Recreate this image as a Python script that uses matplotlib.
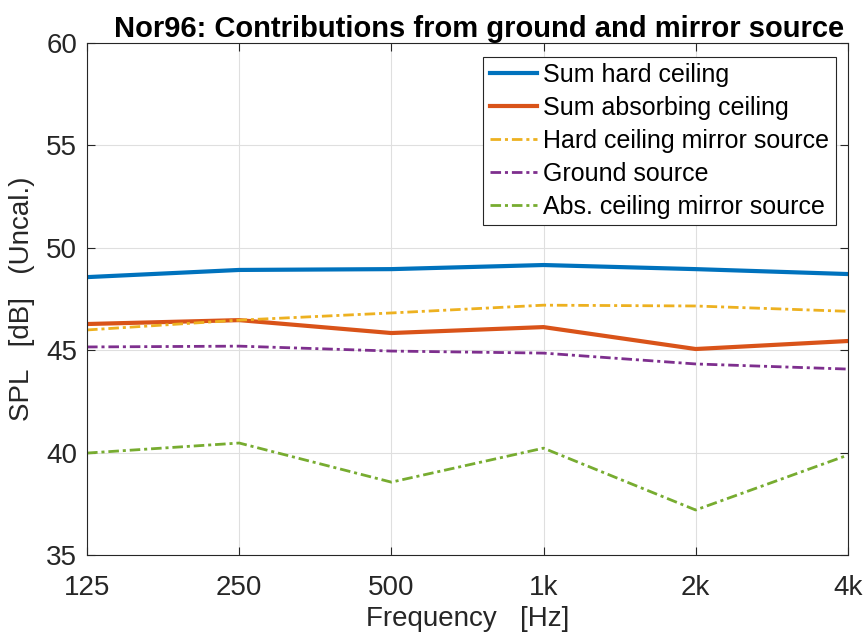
import numpy as np
import matplotlib.pyplot as plt

plt.rcParams['font.family'] = ['Liberation Sans', 'DejaVu Sans']

freq = [125, 250, 500, 1000, 2000, 4000]
freq_labels = ['125', '250', '500', '1k', '2k', '4k']

sum_hard = [48.57, 48.92, 48.96, 49.16, 48.96, 48.72]
sum_abs = [46.28, 46.47, 45.84, 46.13, 45.06, 45.45]
hard_mirror = [45.99, 46.47, 46.82, 47.20, 47.16, 46.90]
ground = [45.16, 45.20, 44.96, 44.86, 44.33, 44.08]
abs_mirror = [39.98, 40.47, 38.56, 40.22, 37.20, 39.88]

fig = plt.figure(figsize=(8.66, 6.38), dpi=100)
ax = fig.add_axes([0.1005, 0.130, 0.8785, 0.8026])

dashdot = (0, (3.8, 1.4, 1.1, 1.4))
ax.plot(freq, sum_hard, color='#0072BD', lw=3, label='Sum hard ceiling')
ax.plot(freq, sum_abs, color='#D95319', lw=3, label='Sum absorbing ceiling')
ax.plot(freq, hard_mirror, color='#EDB120', lw=2, ls=dashdot, label='Hard ceiling mirror source')
ax.plot(freq, ground, color='#7E2F8E', lw=2, ls=dashdot, label='Ground source')
ax.plot(freq, abs_mirror, color='#77AC30', lw=2, ls=dashdot, label='Abs. ceiling mirror source')

ax.set_xscale('log')
ax.set_xlim(125, 4000)
ax.set_ylim(35, 60)
ax.set_xticks(freq)
ax.set_xticklabels(freq_labels)
ax.minorticks_off()
ax.set_yticks(np.arange(35, 61, 5))
ax.tick_params(direction='in', top=True, right=True, labelsize=20, length=6, width=0.8, colors='#262626')
ax.tick_params(axis='x', pad=14)
ax.tick_params(axis='y', pad=7)
ax.grid(True, color='#dfdfdf', lw=0.8)
ax.set_axisbelow(True)
for s in ax.spines.values():
    s.set_color('#262626')
    s.set_linewidth(0.8)

ax.set_xlabel('Frequency   [Hz]', fontsize=20, color='#262626', labelpad=4)
ax.set_ylabel('SPL   [dB]   (Uncal.)', fontsize=20, color='#262626', labelpad=8)
ax.set_title('Nor96: Contributions from ground and mirror source', fontsize=21, fontweight='bold',
             pad=4, x=0.515)

leg = ax.legend(loc='upper right', bbox_to_anchor=(0.984, 0.973), fontsize=18, fancybox=False,
                framealpha=1, edgecolor='#262626', borderpad=0.25, labelspacing=0.36,
                handlelength=1.9, handletextpad=0.25, borderaxespad=0)
leg.get_frame().set_linewidth(0.8)

fig.savefig('out.png', dpi=100)
